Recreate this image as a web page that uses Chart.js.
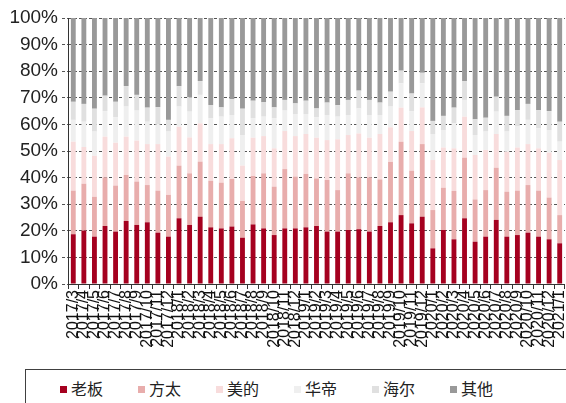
<!DOCTYPE html>
<html>
<head>
<meta charset="utf-8">
<script src="https://cdn.jsdelivr.net/npm/chart.js@4.4.1/dist/chart.umd.min.js"></script>
<style>
  html, body { margin: 0; padding: 0; background: #fff; overflow: hidden; width: 566px; height: 403px; }
  #wrap { position: relative; width: 580px; height: 403px; }
  #c { position: absolute; left: 0; top: 0; }
  #legend { position: absolute; left: 25px; top: 369px; width: 620px; height: 60px; box-sizing: border-box;
            border: 1px solid #404040; font: 16px "Noto Sans CJK SC", sans-serif; color: #222; }
  #legend .item { position: absolute; top: 8px; line-height: 20px; white-space: nowrap; }
  #legend .sw { display: inline-block; width: 7px; height: 7px; margin-right: 4px; vertical-align: 2px; }
</style>
</head>
<body>
<div id="wrap">
  <canvas id="c" width="580" height="350"></canvas>
  <div id="legend"></div>
</div>
<script>
const months = [
  '2017/3','2017/4','2017/5','2017/6','2017/7','2017/8','2017/9','2017/10','2017/11','2017/12',
  '2018/1','2018/2','2018/3','2018/4','2018/5','2018/6','2018/7','2018/8','2018/9','2018/10','2018/11','2018/12',
  '2019/1','2019/2','2019/3','2019/4','2019/5','2019/6','2019/7','2019/8','2019/9','2019/10','2019/11','2019/12',
  '2020/1','2020/2','2020/3','2020/4','2020/5','2020/6','2020/7','2020/8','2020/9','2020/10','2020/11','2020/12',
  '2021/1'
];
const yTicks = [0, 10, 20, 30, 40, 50, 60, 70, 80, 90, 100];

// shares in %, one value per month
const laoban = [18.7,20.1,17.8,21.8,19.7,23.7,22.2,23.2,19.3,17.8,24.7,22.2,25.3,21.3,20.9,21.6,17.4,22.4,20.9,18.4,20.9,20.9,21.3,21.8,19.7,19.7,20.3,20.6,19.7,21.8,23.2,25.9,22.8,25.3,13.4,20.3,16.8,24.7,15.9,17.8,24.1,17.8,18.4,19.3,17.8,16.8,15.3];
const fangtai = [16.4,17.6,15.0,18.3,17.3,17.3,16.3,14.0,15.8,15.7,19.8,19.4,20.7,17.5,17.2,17.9,13.8,18.2,20.7,18.2,22.3,19.5,20.1,17.9,19.4,15.6,21.3,19.5,20.4,17.5,22.7,27.6,19.8,27.3,14.4,15.9,18.2,22.8,15.9,17.5,19.6,16.9,16.7,17.9,17.3,15.7,10.6];
const midea = [18.4,13.8,15.4,15.3,16.1,14.4,15.4,15.4,17.5,14.4,14.6,13.5,14.4,13.8,14.5,15.3,13.3,14.4,14.0,14.4,14.3,15.2,15.0,15.3,15.0,19.1,14.4,16.5,14.9,17.1,13.0,12.8,14.9,13.8,18.8,15.1,16.0,15.4,16.7,15.1,12.7,15.0,16.2,15.4,15.9,16.9,20.7];
const vatti = [8.2,9.5,9.1,9.6,9.6,11.3,11.3,8.4,7.4,9.4,7.6,9.7,10.7,9.7,10.3,8.7,11.5,7.3,7.3,11.3,7.7,8.3,7.5,7.7,9.4,8.5,7.5,9.4,8.5,7.1,7.8,9.1,7.5,9.0,9.8,6.6,9.4,6.3,7.5,6.9,8.4,7.6,8.1,9.1,7.5,8.5,6.9];
const haier = [6.8,6.7,8.6,5.8,5.8,7.7,5.9,5.3,6.5,4.4,7.7,5.4,5.2,5.0,3.5,6.0,9.9,6.6,5.4,4.1,4.0,4.0,5.0,3.3,4.7,4.3,5.7,6.7,5.7,4.7,5.6,4.8,6.6,4.0,4.9,5.3,5.9,7.1,5.9,5.2,5.6,5.9,6.0,6.0,6.9,7.1,7.5];
const others = [31.5,32.3,34.1,29.2,31.5,25.6,28.9,33.7,33.5,38.3,25.6,29.8,23.7,32.7,33.6,30.5,34.1,31.1,31.7,33.6,30.8,32.1,31.1,34.0,31.8,32.8,30.8,27.3,30.8,31.8,27.7,19.8,28.4,20.6,38.7,36.8,33.7,23.7,38.1,37.5,29.6,36.8,34.6,32.3,34.6,35.0,39.0];

const seriesNames = ['老板', '方太', '美的', '华帝', '海尔', '其他'];
const seriesColors = ['#a5001f', '#e8adac', '#f8dcdc', '#efefef', '#e0e0e0', '#999999'];
const seriesData = [laoban, fangtai, midea, vatti, haier, others];

const chart = new Chart(document.getElementById('c'), {
  type: 'bar',
  data: {
    labels: months,
    datasets: seriesNames.map((name, i) => ({
      label: name,
      data: seriesData[i],
      backgroundColor: seriesColors[i],
      barPercentage: 0.46,
      categoryPercentage: 1.0
    }))
  },
  options: {
    responsive: false,
    animation: false,
    layout: { padding: { top: 18, right: 10, left: 0, bottom: 0 } },
    plugins: { legend: { display: false }, tooltip: { enabled: false } },
    scales: {
      x: {
        stacked: true,
        grid: { offset: true, drawOnChartArea: false, color: '#333', tickLength: 5 },
        border: { color: '#333', width: 1 },
        ticks: {
          autoSkip: false, minRotation: 90, maxRotation: 90, padding: 1,
          color: '#111', font: { family: 'Liberation Sans', size: 16 }
        },
        afterFit(scale) { scale.height = 66; }
      },
      y: {
        stacked: true,
        min: 0, max: 100,
        z: 1,
        afterBuildTicks(scale) { scale.ticks = yTicks.map(v => ({ value: v })); },
        grid: { color: '#555', tickLength: 6, tickBorderDash: [3, 2] },
        border: { color: '#333', width: 1, dash: [3, 2] },
        ticks: {
          padding: 4, color: '#222',
          font: { family: 'Liberation Sans', size: 19 },
          callback: v => v + '%'
        },
        afterFit(scale) { scale.width = 68; }
      }
    }
  }
});

// legend built from the chart's datasets
const legend = document.getElementById('legend');
const legendStart = 34, legendStep = 78;
chart.data.datasets.forEach((ds, i) => {
  const item = document.createElement('div');
  item.className = 'item';
  item.style.left = (legendStart + i * legendStep) + 'px';
  const sw = document.createElement('span');
  sw.className = 'sw';
  sw.style.background = ds.backgroundColor;
  item.appendChild(sw);
  item.appendChild(document.createTextNode(ds.label));
  legend.appendChild(item);
});
</script>
</body>
</html>
